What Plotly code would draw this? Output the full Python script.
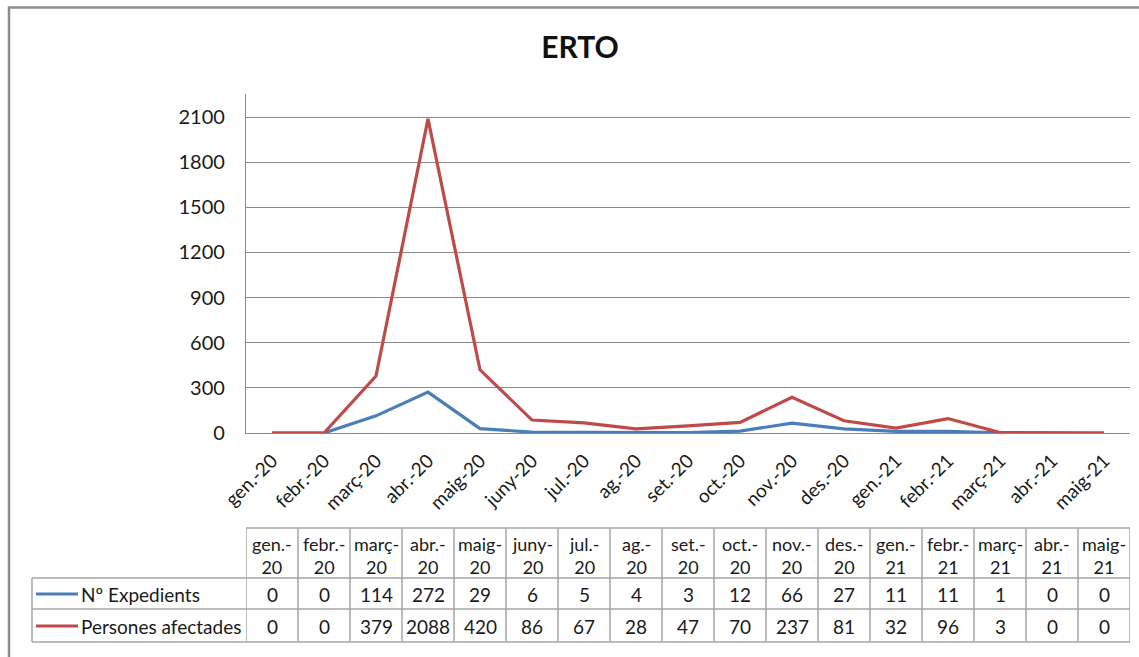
import plotly.graph_objects as go

# ---- data ----
categories = ["gen.-20", "febr.-20", "març-20", "abr.-20", "maig-20", "juny-20", "jul.-20",
              "ag.-20", "set.-20", "oct.-20", "nov.-20", "des.-20", "gen.-21", "febr.-21",
              "març-21", "abr.-21", "maig-21"]
expedients = [0, 0, 114, 272, 29, 6, 5, 4, 3, 12, 66, 27, 11, 11, 1, 0, 0]
persones = [0, 0, 379, 2088, 420, 86, 67, 28, 47, 70, 237, 81, 32, 96, 3, 0, 0]
series_names = ["Nº Expedients", "Persones afectades"]
series_values = [expedients, persones]
series_colors = ["#4a7ebb", "#be4b48"]
y_ticks = [0, 300, 600, 900, 1200, 1500, 1800, 2100]
title_text = "ERTO"

# ---- layout geometry (pixels) ----
W, H = 1139, 657
L, R, T, B = 246, 9, 94, 224
PW, PH = W - L - R, H - T - B
FONT = "Lato, 'Open Sans', sans-serif"
TXT = "#1a1a1a"
GRID = "#8a8a8a"
BORDER = "#a6a6a6"
TS = 19


def px_x(px):
    return (px - L) / PW


def px_y(py):
    return (H - B - py) / PH


fig = go.Figure()
for name, vals, col in zip(series_names, series_values, series_colors):
    fig.add_trace(go.Scatter(x=categories, y=vals, mode="lines", name=name,
                             line=dict(color=col, width=3.2), showlegend=False))

shapes = []
annotations = []

# outer frame
shapes.append(dict(type="rect", xref="paper", yref="paper",
                   x0=px_x(9), x1=px_x(1160), y0=px_y(680), y1=px_y(7.5),
                   line=dict(color="#8c8c8c", width=2.5), layer="below"))

# data table
head_top, head_bot, r1_bot, r2_bot = 528, 578, 609, 642
tab_left = 32
n = len(categories)
shapes.append(dict(type="line", xref="x", yref="paper", x0=-0.5, x1=n - 0.5,
                   y0=px_y(head_top), y1=px_y(head_top), line=dict(color=BORDER, width=1.5)))
for yy in (head_bot, r1_bot, r2_bot):
    shapes.append(dict(type="line", xref="paper", yref="paper", x0=px_x(tab_left), x1=1,
                       y0=px_y(yy), y1=px_y(yy), line=dict(color=BORDER, width=1.5)))
for i in range(n + 1):
    shapes.append(dict(type="line", xref="x", yref="paper", x0=i - 0.5, x1=i - 0.5,
                       y0=px_y(head_top), y1=px_y(r2_bot), line=dict(color=BORDER, width=1.5)))
shapes.append(dict(type="line", xref="paper", yref="paper", x0=px_x(tab_left), x1=px_x(tab_left),
                   y0=px_y(head_bot), y1=px_y(r2_bot), line=dict(color=BORDER, width=1.5)))

# header text (two lines per cell)
for i, c in enumerate(categories):
    k = c.rfind("-")
    top, bot = c[:k + 1], c[k + 1:]
    annotations.append(dict(x=i, y=px_y(555), xref="x", yref="paper", text=f"{top}<br>{bot}",
                            showarrow=False, font=dict(family=FONT, size=18, color=TXT),
                            xanchor="center", yanchor="middle", align="center"))

# rows
row_centers = [594, 626]
for name, vals, col, rc in zip(series_names, series_values, series_colors, row_centers):
    shapes.append(dict(type="line", xref="paper", yref="paper", x0=px_x(36), x1=px_x(78),
                       y0=px_y(rc), y1=px_y(rc), line=dict(color=col, width=3)))
    annotations.append(dict(x=px_x(79), y=px_y(rc), xref="paper", yref="paper", text=name,
                            showarrow=False, font=dict(family=FONT, size=TS, color=TXT),
                            xanchor="left", yanchor="middle"))
    for i, v in enumerate(vals):
        annotations.append(dict(x=i, y=px_y(rc), xref="x", yref="paper", text=str(v),
                                showarrow=False, font=dict(family=FONT, size=TS, color=TXT),
                                xanchor="center", yanchor="middle"))

fig.update_layout(
    width=W, height=H,
    margin=dict(l=L, r=R, t=T, b=B, autoexpand=False),
    paper_bgcolor="white", plot_bgcolor="white",
    title=dict(text=f"<b>{title_text}</b>", x=580 / W, xanchor="center",
               y=1 - 47 / H, yanchor="middle", yref="container",
               font=dict(family=FONT, size=30, color="#111")),
    font=dict(family=FONT, size=TS, color=TXT),
    shapes=shapes, annotations=annotations,
    xaxis=dict(type="category", range=[-0.5, n - 0.5], showgrid=False, zeroline=False,
               showline=True, linecolor=GRID, linewidth=1.2, ticks="",
               tickangle=-45, tickfont=dict(family=FONT, size=19, color=TXT),
               ticklabelstandoff=8, fixedrange=True),
    yaxis=dict(range=[0, 2253], tickvals=y_ticks, showgrid=True, gridcolor=GRID, gridwidth=1.2,
               zeroline=False, showline=True, linecolor=GRID, linewidth=1.2, ticks="",
               tickfont=dict(family=FONT, size=20, color=TXT), ticklabelstandoff=16,
               fixedrange=True),
)

fig.write_html("out.html", config={"displayModeBar": False},
               post_script="document.body.style.margin='0';document.body.style.overflow='hidden';")
